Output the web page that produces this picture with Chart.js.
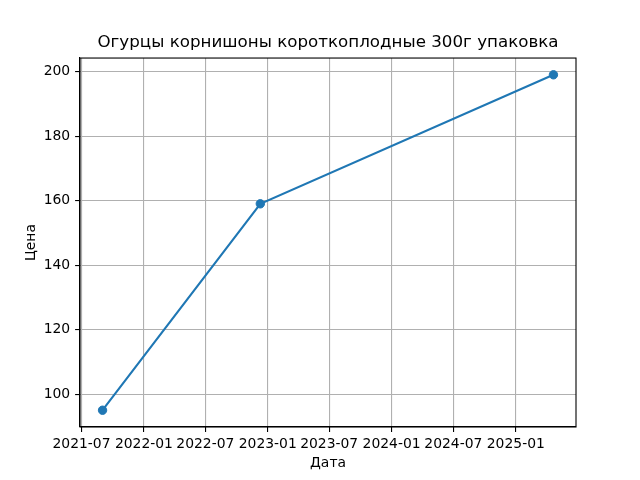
<!DOCTYPE html>
<html>
<head>
<meta charset="utf-8">
<script src="https://cdn.jsdelivr.net/npm/chart.js@4"></script>
<style>
  html, body { margin: 0; padding: 0; background: #fff; }
  #wrap { width: 640px; height: 480px; }
</style>
</head>
<body>
<div id="wrap"><canvas id="chart" width="640" height="480"></canvas></div>
<script>
// Chart data
var dates = ['2021-09-01', '2022-12-10', '2025-04-22'];
var prices = [95, 159, 199];
var xTickLabels = ['2021-07', '2022-01', '2022-07', '2023-01', '2023-07', '2024-01', '2024-07', '2025-01'];
var yTicks = [100, 120, 140, 160, 180, 200];

var titleText = 'Огурцы корнишоны короткоплодные 300г упаковка';
var xLabel = 'Дата';
var yLabel = 'Цена';

function toTime(s) {
    var p = s.split('-');
    return Date.UTC(+p[0], +p[1] - 1, p[2] ? +p[2] : 1);
}

var points = dates.map(function(d, i) {
    return { x: toTime(d), y: prices[i] };
});
var xTickValues = xTickLabels.map(toTime);

// Matplotlib style 5% margins
var xs = points.map(function(p) { return p.x; });
var xMin = Math.min.apply(null, xs), xMax = Math.max.apply(null, xs);
var xPad = (xMax - xMin) * 0.05;
var yMin = Math.min.apply(null, prices), yMax = Math.max.apply(null, prices);
var yPad = (yMax - yMin) * 0.05;

function labelFor(value) {
    var i = xTickValues.indexOf(value);
    return i >= 0 ? xTickLabels[i] : '';
}

var font = 'DejaVu Sans';

// Draw the box around the plot area
var frame = {
    id: 'frame',
    afterDraw: function(chart) {
        var a = chart.chartArea, ctx = chart.ctx;
        ctx.save();
        ctx.strokeStyle = '#000';
        ctx.lineWidth = 1.1;
        ctx.strokeRect(a.left, a.top, a.right - a.left, a.bottom - a.top);
        ctx.restore();
    }
};

new Chart(document.getElementById('chart'), {
    type: 'line',
    data: {
        datasets: [{
            data: points,
            borderColor: '#1f77b4',
            backgroundColor: '#1f77b4',
            borderWidth: 2.1,
            pointRadius: 4.2,
            pointHoverRadius: 4.2,
            pointBorderWidth: 1,
            tension: 0,
            fill: false
        }]
    },
    options: {
        responsive: false,
        animation: false,
        // left padding 16 keeps the title centred over the plot area
        layout: { padding: { left: 16, right: 0, top: 0, bottom: 0 } },
        plugins: {
            legend: { display: false },
            tooltip: { enabled: false },
            title: {
                display: true,
                text: titleText,
                color: '#000',
                font: { family: font, size: 16.7, weight: 'normal', lineHeight: 1.2 },
                padding: { top: 33, bottom: 5 }
            }
        },
        scales: {
            x: {
                type: 'linear',
                min: xMin - xPad,
                max: xMax + xPad,
                afterFit: function(s) { s.height = 53; },
                afterBuildTicks: function(s) {
                    s.ticks = xTickValues.map(function(v) { return { value: v }; });
                },
                ticks: {
                    color: '#000',
                    font: { family: font, size: 13.9 },
                    padding: 4,
                    maxRotation: 0,
                    autoSkip: false,
                    callback: function(v) { return labelFor(v); }
                },
                grid: { color: '#b0b0b0', lineWidth: 1.1, tickColor: '#000', tickLength: 4.9 },
                border: { color: '#000', width: 1.1 },
                title: {
                    display: true,
                    text: xLabel,
                    color: '#000',
                    font: { family: font, size: 13.9, lineHeight: 1.2 },
                    padding: { top: 0, bottom: 8.7 }
                }
            },
            y: {
                min: yMin - yPad,
                max: yMax + yPad,
                afterFit: function(s) { s.width = 64; },
                afterBuildTicks: function(s) {
                    s.ticks = yTicks.map(function(v) { return { value: v }; });
                },
                ticks: {
                    color: '#000',
                    font: { family: font, size: 13.9 },
                    padding: 4.9
                },
                grid: { color: '#b0b0b0', lineWidth: 1.1, tickColor: '#000', tickLength: 4.9 },
                border: { color: '#000', width: 1.1 },
                title: {
                    display: true,
                    text: yLabel,
                    color: '#000',
                    font: { family: font, size: 13.9, lineHeight: 1.2 },
                    padding: { top: 7.5, bottom: 0 }
                }
            },
            // empty right axis that only reserves the right margin
            yRight: {
                position: 'right',
                display: true,
                afterFit: function(s) { s.width = 64; },
                ticks: { display: false },
                grid: { display: false, drawTicks: false },
                border: { display: false }
            }
        }
    },
    plugins: [frame]
});
</script>
</body>
</html>
